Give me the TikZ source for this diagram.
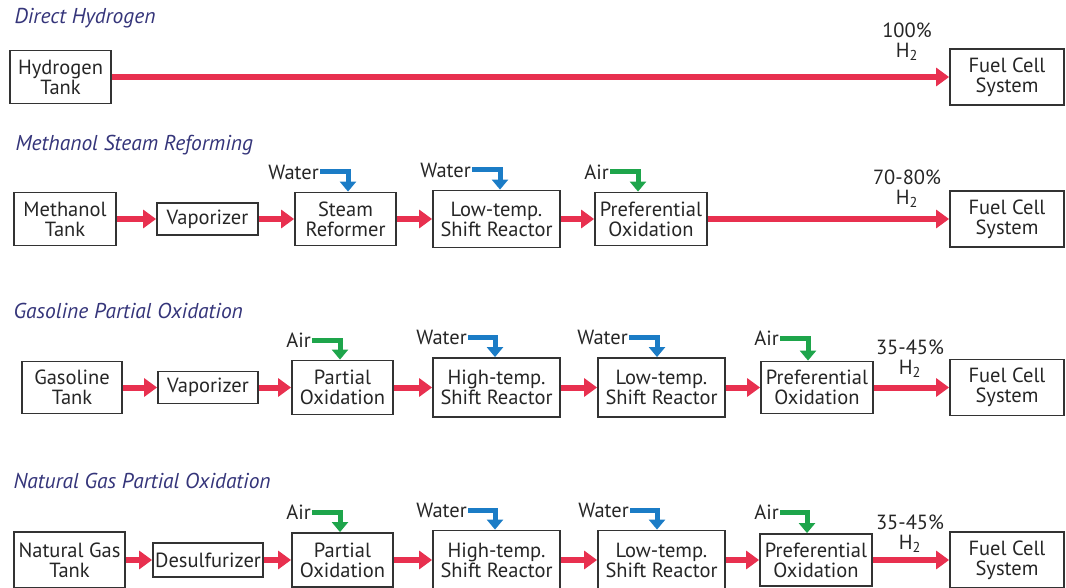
\documentclass[tikz,border=0pt]{standalone}
\usepackage{fontspec}
\setmainfont{PT Sans}
\usetikzlibrary{arrows.meta}
\definecolor{redc}{HTML}{E8304F}
\definecolor{bluec}{HTML}{1B7CC6}
\definecolor{greenc}{HTML}{1EA54B}
\definecolor{txt}{HTML}{262626}
\definecolor{ttl}{HTML}{35357A}
\definecolor{boxc}{HTML}{333333}
\begin{document}
\begin{tikzpicture}[x=1pt,y=-1pt,
 every node/.style={font=\fontsize{20.5}{20}\selectfont, text=txt},
 box/.style={draw=boxc, line width=1.8pt, align=center, inner sep=0pt, fill=white},
 fcbox/.style={box, minimum width=114pt, minimum height=56pt},
 ttlnode/.style={anchor=west, text=ttl, font=\fontsize{21.5}{22}\selectfont\itshape},
 pct/.style={align=center, inner sep=0pt},
 lbl/.style={anchor=east, inner sep=1pt},
 flow/.style={draw=redc, line width=6pt, -{Triangle[length=13pt,width=18pt]}},
 feedb/.style={draw=bluec, line width=5pt, line join=miter, -{Triangle[length=10pt,width=16pt]}},
 feedg/.style={draw=greenc, line width=5pt, line join=miter, -{Triangle[length=10pt,width=16pt]}}
]
\useasboundingbox (0,0) rectangle (1066,588);
\clip (0,0) rectangle (1066,588);

% ---------- Titles
\node[ttlnode] (t1) at (11,18) {Direct Hydrogen};
\node[ttlnode] (t2) at (12,145) {Methanol Steam Reforming};
\node[ttlnode] (t3) at (10,311) {Gasoline Partial Oxidation};
\node[ttlnode] (t4) at (10,481) {Natural Gas Partial Oxidation};

% ---------- Row 1
\node[box, minimum width=101pt, minimum height=53pt] (ht) at (60.5,77) {Hydrogen\\Tank};
\node[fcbox] (fc1) at (1007,77) {Fuel Cell\\System};
\node[pct] (p1) at (907,42) {100\%\\H\textsubscript{2}};
\draw[flow] (ht) -- (fc1);

% ---------- Row 2
\node[box, minimum width=102pt, minimum height=53pt] (mt) at (65,219) {Methanol\\Tank};
\node[box, minimum width=101pt, minimum height=32pt] (vap2) at (207.5,219) {Vaporizer};
\node[box, minimum width=101pt, minimum height=53pt] (sr) at (345.5,219) {Steam\\Reformer};
\node[box, minimum width=127pt, minimum height=57pt] (lt2) at (496.5,219) {Low-temp.\\Shift Reactor};
\node[box, minimum width=112pt, minimum height=53pt] (po2) at (651,219) {Preferential\\Oxidation};
\node[fcbox] (fc2) at (1007,219) {Fuel Cell\\System};
\node[pct] (p2) at (907,189) {70-80\%\\H\textsubscript{2}};
\draw[flow] (mt) -- (vap2);
\draw[flow] (vap2) -- (sr);
\draw[flow] (sr) -- (lt2);
\draw[flow] (lt2) -- (po2);
\draw[flow] (po2) -- (fc2);

\coordinate (w21) at (320,172);
\coordinate (w22) at (472,170);
\coordinate (a21) at (610,172);
\node[lbl] (lw21) at (w21) {Water};
\node[lbl] (lw22) at (w22) {Water};
\node[lbl] (la21) at (a21) {Air};
\draw[feedb] (w21) -| ([xshift=2.5pt]sr.north);
\draw[feedb] (w22) -| ([xshift=3.5pt]lt2.north);
\draw[feedg] (a21) -| ([xshift=-13pt]po2.north);

% ---------- Row 3
\node[box, minimum width=100pt, minimum height=52pt] (gt) at (72,387.5) {Gasoline\\Tank};
\node[box, minimum width=100pt, minimum height=32pt] (vap3) at (208,387.5) {Vaporizer};
\node[box, minimum width=101pt, minimum height=54pt] (pox3) at (342.5,387.5) {Partial\\Oxidation};
\node[box, minimum width=127pt, minimum height=59pt] (ht3) at (496.5,387.5) {High-temp.\\Shift Reactor};
\node[box, minimum width=127pt, minimum height=59pt] (lt3) at (661.5,387.5) {Low-temp.\\Shift Reactor};
\node[box, minimum width=112pt, minimum height=52pt] (pr3) at (817,387.5) {Preferential\\Oxidation};
\node[fcbox] (fc3) at (1007,387.5) {Fuel Cell\\System};
\node[pct] (p3) at (910,358.5) {35-45\%\\H\textsubscript{2}};
\draw[flow] (gt) -- (vap3);
\draw[flow] (vap3) -- (pox3);
\draw[flow] (pox3) -- (ht3);
\draw[flow] (ht3) -- (lt3);
\draw[flow] (lt3) -- (pr3);
\draw[flow] (pr3) -- (fc3);

\coordinate (a31) at (312,340);
\coordinate (w31) at (468,337);
\coordinate (w32) at (629,337);
\coordinate (a32) at (780,338);
\node[lbl] (la31) at (a31) {Air};
\node[lbl] (lw31) at (w31) {Water};
\node[lbl] (lw32) at (w32) {Water};
\node[lbl] (la32) at (a32) {Air};
\draw[feedg] (a31) -| ([xshift=-2.5pt]pox3.north);
\draw[feedb] (w31) -| ([xshift=-1.5pt]ht3.north);
\draw[feedb] (w32) -| ([xshift=-4.5pt]lt3.north);
\draw[feedg] (a32) -| ([xshift=-9pt]pr3.north);

% ---------- Row 4
\node[box, minimum width=111pt, minimum height=56pt] (ngt) at (69.5,560) {Natural Gas\\Tank};
\node[box, minimum width=110pt, minimum height=34pt] (des) at (208,560) {Desulfurizer};
\node[box, minimum width=101pt, minimum height=54pt] (pox4) at (342.5,560) {Partial\\Oxidation};
\node[box, minimum width=127pt, minimum height=59pt] (ht4) at (496.5,560) {High-temp.\\Shift Reactor};
\node[box, minimum width=127pt, minimum height=59pt] (lt4) at (661.5,560) {Low-temp.\\Shift Reactor};
\node[box, minimum width=112pt, minimum height=52pt] (pr4) at (816,560) {Preferential\\Oxidation};
\node[fcbox] (fc4) at (1007,560) {Fuel Cell\\System};
\node[pct] (p4) at (910,533.5) {35-45\%\\H\textsubscript{2}};
\draw[flow] (ngt) -- (des);
\draw[flow] (des) -- (pox4);
\draw[flow] (pox4) -- (ht4);
\draw[flow] (ht4) -- (lt4);
\draw[flow] (lt4) -- (pr4);
\draw[flow] (pr4) -- (fc4);

\coordinate (a41) at (312,512);
\coordinate (w41) at (468,510);
\coordinate (w42) at (630,510);
\coordinate (a42) at (780,512);
\node[lbl] (la41) at (a41) {Air};
\node[lbl] (lw41) at (w41) {Water};
\node[lbl] (lw42) at (w42) {Water};
\node[lbl] (la42) at (a42) {Air};
\draw[feedg] (a41) -| ([xshift=-2.5pt]pox4.north);
\draw[feedb] (w41) -| ([xshift=-1.5pt]ht4.north);
\draw[feedb] (w42) -| ([xshift=-4.5pt]lt4.north);
\draw[feedg] (a42) -| ([xshift=-9pt]pr4.north);
\end{tikzpicture}
\end{document}
